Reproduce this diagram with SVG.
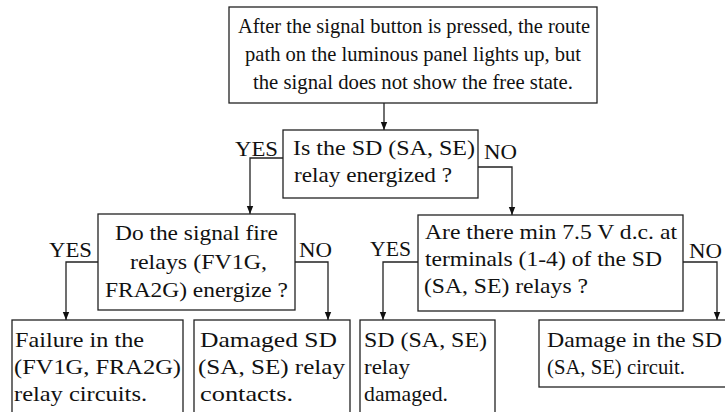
<svg xmlns="http://www.w3.org/2000/svg" width="725" height="412" viewBox="0 0 725 412">
<defs>
<style>
rect.box{fill:#fff;stroke:#222;stroke-width:1.3}
text{font-family:'Liberation Serif','Times New Roman','DejaVu Serif',serif;font-size:21px;fill:#111}
.c{text-anchor:middle}
.conn path{fill:none;stroke:#222;stroke-width:1.3}
</style>
<marker id="ah" viewBox="0 0 10 10" refX="10" refY="5" markerWidth="8" markerHeight="8" markerUnits="userSpaceOnUse" orient="auto">
<path d="M0,1 L10,5 L0,9 Z" fill="#111"/>
</marker>
</defs>
<rect width="725" height="412" fill="#fff"/>
<g class="conn">
<path d="M384,103 V130" marker-end="url(#ah)"/>
<path d="M283,158 H250 V214" marker-end="url(#ah)"/>
<path d="M478,167 H512 V215" marker-end="url(#ah)"/>
<path d="M98,262 H66 V320" marker-end="url(#ah)"/>
<path d="M295,262 H328 V320" marker-end="url(#ah)"/>
<path d="M418,262 H383 V320" marker-end="url(#ah)"/>
<path d="M683,262 H717 V320" marker-end="url(#ah)"/>
<text x="235" y="156" textLength="43" lengthAdjust="spacingAndGlyphs">YES</text>
<text x="484" y="159" textLength="33" lengthAdjust="spacingAndGlyphs">NO</text>
<text x="49" y="257" textLength="43" lengthAdjust="spacingAndGlyphs">YES</text>
<text x="299" y="257" textLength="33" lengthAdjust="spacingAndGlyphs">NO</text>
<text x="370" y="256" textLength="41" lengthAdjust="spacingAndGlyphs">YES</text>
<text x="689" y="258" textLength="33" lengthAdjust="spacingAndGlyphs">NO</text>
</g>
<g id="start">
<rect class="box" x="229" y="7" width="368" height="96"/>
<text x="238" y="33" textLength="352" lengthAdjust="spacingAndGlyphs">After the signal button is pressed, the route</text>
<text x="245" y="61" textLength="336" lengthAdjust="spacingAndGlyphs">path on the luminous panel lights up, but</text>
<text x="253" y="89" textLength="320" lengthAdjust="spacingAndGlyphs">the signal does not show the free state.</text>
</g>
<g id="q1">
<rect class="box" x="283" y="130" width="195" height="68"/>
<text x="293" y="155" textLength="182" lengthAdjust="spacingAndGlyphs">Is the SD (SA, SE)</text>
<text x="294" y="182" textLength="158" lengthAdjust="spacingAndGlyphs">relay energized ?</text>
</g>
<g id="q2">
<rect class="box" x="98" y="214" width="197" height="96"/>
<text x="115" y="240" textLength="163" lengthAdjust="spacingAndGlyphs">Do the signal fire</text>
<text x="130" y="269" textLength="137" lengthAdjust="spacingAndGlyphs">relays (FV1G,</text>
<text x="105" y="297" textLength="183" lengthAdjust="spacingAndGlyphs">FRA2G) energize ?</text>
</g>
<g id="q3">
<rect class="box" x="418" y="215" width="265" height="96"/>
<text x="425" y="239" textLength="252" lengthAdjust="spacingAndGlyphs">Are there min 7.5 V d.c. at</text>
<text x="425" y="266" textLength="237" lengthAdjust="spacingAndGlyphs">terminals (1-4) of the SD</text>
<text x="424" y="293" textLength="164" lengthAdjust="spacingAndGlyphs">(SA, SE) relays  ?</text>
</g>
<g id="r1">
<rect class="box" x="12" y="320" width="171" height="100"/>
<text x="15" y="347" textLength="129" lengthAdjust="spacingAndGlyphs">Failure in the</text>
<text x="14" y="374" textLength="167" lengthAdjust="spacingAndGlyphs">(FV1G, FRA2G)</text>
<text x="14" y="401" textLength="133" lengthAdjust="spacingAndGlyphs">relay circuits.</text>
</g>
<g id="r2">
<rect class="box" x="194" y="320" width="156" height="100"/>
<text x="200" y="347" textLength="137" lengthAdjust="spacingAndGlyphs">Damaged SD</text>
<text x="198" y="374" textLength="147" lengthAdjust="spacingAndGlyphs">(SA, SE) relay</text>
<text x="200" y="401" textLength="93" lengthAdjust="spacingAndGlyphs">contacts.</text>
</g>
<g id="r3">
<rect class="box" x="360" y="320" width="135" height="100"/>
<text x="364" y="347" textLength="123" lengthAdjust="spacingAndGlyphs">SD (SA, SE)</text>
<text x="364" y="374" textLength="46" lengthAdjust="spacingAndGlyphs">relay</text>
<text x="364" y="401" textLength="84" lengthAdjust="spacingAndGlyphs">damaged.</text>
</g>
<g id="r4">
<rect class="box" x="539" y="320" width="190" height="67"/>
<text x="547" y="347" textLength="175" lengthAdjust="spacingAndGlyphs">Damage in the SD</text>
<text x="547" y="374" textLength="138" lengthAdjust="spacingAndGlyphs">(SA, SE) circuit.</text>
</g>
</svg>
